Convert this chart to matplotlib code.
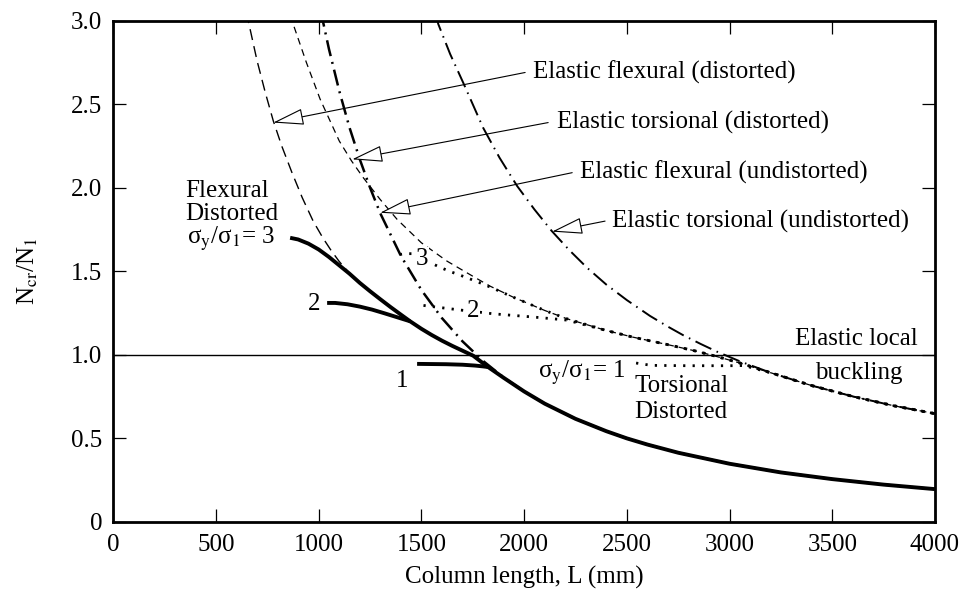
import matplotlib
matplotlib.use("Agg")
import matplotlib.pyplot as plt

plt.rcParams['font.family'] = ['Liberation Serif', 'DejaVu Serif']
plt.rcParams['mathtext.fontset'] = 'stix'

# ---------------- data ----------------
# Elastic flexural (distorted) - thin dashed
efd_L = [645, 657, 700, 740, 779, 820, 870, 920, 973, 1020, 1060, 1100, 1150, 1200, 1250,
         1300, 1350, 1400, 1445, 1500, 1550, 1600, 1650, 1700, 1752, 1820, 1900, 2000,
         2100, 2250, 2400, 2500, 2600, 2750, 3000, 3250, 3500, 3750, 4000]
efd_N = [3.05, 3.0, 2.76, 2.57, 2.40, 2.25, 2.09, 1.94, 1.80, 1.70, 1.625, 1.558, 1.487, 1.43, 1.38,
         1.332, 1.285, 1.24, 1.20, 1.155, 1.118, 1.084, 1.053, 1.024, 0.994, 0.93, 0.862, 0.78,
         0.707, 0.616, 0.542, 0.499, 0.462, 0.413, 0.347, 0.295, 0.255, 0.222, 0.195]

# Elastic torsional (distorted) - thin short dashes
etd_L = [860, 870, 940, 1007, 1100, 1160, 1217, 1299, 1382, 1500, 1625, 1750, 1835, 1946,
         2100, 2209, 2400, 2530, 2700, 2842, 2950, 3051, 3200, 3400, 3600, 3800, 4000]
etd_N = [3.03, 3.0, 2.75, 2.53, 2.28, 2.16, 2.06, 1.93, 1.81, 1.67, 1.56, 1.47, 1.41, 1.345,
         1.265, 1.215, 1.145, 1.105, 1.06, 1.02, 0.985, 0.95, 0.892, 0.815, 0.75, 0.694, 0.647]

# Elastic flexural (undistorted) - thick dash-dot
efu_L = [1010, 1020, 1050, 1100, 1150, 1200, 1250, 1300, 1400, 1500, 1600, 1700, 1800,
         1900, 2000, 2100, 2250, 2400, 2500, 2600, 2750, 3000, 3250, 3500, 3750, 4000]
efu_N = [3.06, 3.0, 2.83, 2.58, 2.36, 2.17, 2.0, 1.846, 1.592, 1.387, 1.219, 1.08, 0.963,
         0.864, 0.78, 0.707, 0.616, 0.542, 0.499, 0.462, 0.413, 0.347, 0.295, 0.255, 0.222, 0.195]

# Elastic torsional (undistorted) - dash-dot
etu_L = [1570, 1582, 1640, 1703, 1800, 1880, 1966, 2050, 2135, 2220, 2307, 2400, 2500,
         2613, 2700, 2774, 2860, 2939, 3051, 3200, 3400, 3600, 3800, 4000]
etu_N = [3.04, 2.98, 2.80, 2.63, 2.36, 2.18, 2.01, 1.87, 1.74, 1.626, 1.52, 1.42, 1.327,
         1.232, 1.168, 1.117, 1.064, 1.018, 0.96, 0.892, 0.815, 0.75, 0.694, 0.647]

# Inelastic flexural distorted (thick solid), sigma_y/sigma_1 = 3, 2, 1
fd3_L = [861, 900, 950, 1000, 1050, 1100, 1150, 1200, 1250, 1300, 1350, 1400, 1445, 1500,
         1550, 1600, 1650, 1700, 1752, 1820, 1900, 2000, 2100, 2250, 2400, 2500, 2600, 2750,
         3000, 3250, 3500, 3750, 4000]
fd3_N = [1.70, 1.69, 1.665, 1.63, 1.585, 1.535, 1.485, 1.43, 1.38, 1.332, 1.285, 1.24, 1.20,
         1.155, 1.118, 1.084, 1.053, 1.024, 0.994, 0.93, 0.862, 0.78, 0.707, 0.616, 0.542,
         0.499, 0.462, 0.413, 0.347, 0.295, 0.255, 0.222, 0.195]
fd2_L = [1041, 1080, 1140, 1200, 1260, 1320, 1380, 1445]
fd2_N = [1.31, 1.31, 1.302, 1.288, 1.27, 1.248, 1.225, 1.20]
fd1_L = [1479, 1550, 1620, 1700, 1760, 1800, 1825]
fd1_N = [0.945, 0.944, 0.943, 0.94, 0.935, 0.93, 0.926]

# Inelastic torsional distorted (dotted), sigma_y/sigma_1 = 3, 2, 1
td3_L = [1395, 1420, 1455, 1520, 1591, 1640, 1691, 1740, 1786, 1835, 1946, 2100, 2209,
         2400, 2530, 2700, 2842, 2950, 3051, 3200, 3400, 3600, 3800, 4000]
td3_N = [1.60, 1.605, 1.605, 1.565, 1.523, 1.498, 1.475, 1.452, 1.43, 1.405, 1.345, 1.265,
         1.215, 1.145, 1.105, 1.06, 1.02, 0.985, 0.95, 0.892, 0.815, 0.75, 0.694, 0.647]
td2_L = [1510, 1560, 1620, 1700, 1780, 1849, 1950, 2050, 2141, 2209, 2400, 2530, 2700,
         2842, 2950, 3051, 3200, 3400, 3600, 3800, 4000]
td2_N = [1.295, 1.287, 1.278, 1.266, 1.255, 1.245, 1.235, 1.225, 1.215, 1.207, 1.145, 1.105,
         1.06, 1.02, 0.985, 0.95, 0.892, 0.815, 0.75, 0.694, 0.647]
td1_L = [2545, 2620, 2800, 3000, 3070, 3200, 3400, 3600, 3800, 4000]
td1_N = [0.95, 0.936, 0.934, 0.934, 0.935, 0.892, 0.815, 0.75, 0.694, 0.647]

# Elastic local buckling
local_L = [0, 4000]
local_N = [1.0, 1.0]

xticks = [0, 500, 1000, 1500, 2000, 2500, 3000, 3500, 4000]
xticklabels = ['0', '500', '1000', '1500', '2000', '2500', '3000', '3500', '4000']
yticks = [0, 0.5, 1.0, 1.5, 2.0, 2.5, 3.0]
yticklabels = ['0', '0.5', '1.0', '1.5', '2.0', '2.5', '3.0']

# ---------------- figure ----------------
fig = plt.figure(figsize=(9.64, 5.95), dpi=100)
ax = fig.add_axes([0.1175, 0.1232, 0.9699 - 0.1175, 0.9652 - 0.1232])

FS = 18
k = 'black'

ax.plot(local_L, local_N, color=k, lw=1.0)
ax.plot(efd_L, efd_N, color=k, lw=1.0, ls=(0, (8, 4.5)))
ax.plot(etd_L, etd_N, color=k, lw=0.9, ls=(0, (5.5, 4)))
ax.plot(efu_L, efu_N, color=k, lw=1.8, ls=(0, (6.5, 2.4, 0.8, 2.4)))
ax.plot(etu_L, etu_N, color=k, lw=1.4, ls=(0, (9, 3, 0.8, 3)))

dot = (0, (0.8, 2.6))
ax.plot(td3_L, td3_N, color=k, lw=2.0, ls=dot)
ax.plot(td2_L, td2_N, color=k, lw=2.0, ls=dot)
ax.plot(td1_L, td1_N, color=k, lw=2.0, ls=dot)

ax.plot(fd3_L, fd3_N, color=k, lw=2.8, solid_capstyle='butt', solid_joinstyle='round')
ax.plot(fd2_L, fd2_N, color=k, lw=2.8, solid_capstyle='butt', solid_joinstyle='round')
ax.plot(fd1_L, fd1_N, color=k, lw=2.8, solid_capstyle='butt', solid_joinstyle='round')

ax.set_xlim(0, 4000)
ax.set_ylim(0, 3.0)
ax.set_xticks(xticks)
ax.set_xticklabels(xticklabels)
ax.set_yticks(yticks)
ax.set_yticklabels(yticklabels)
ax.tick_params(direction='in', length=9.5, width=0.9, labelsize=FS,
               top=True, right=True, pad=8)
ax.tick_params(axis='x', pad=9)
for s in ax.spines.values():
    s.set_linewidth(2.0)

ax.set_xlabel('Column length, L (mm)', fontsize=FS, labelpad=7)
ax.set_ylabel(r'N$_{\mathrm{cr}}$/N$_{1}$', fontsize=FS, labelpad=22)

# arrows with open triangular heads
aprops = dict(arrowstyle='-|>,head_length=1.3,head_width=0.35', fc='white', ec=k,
              lw=0.8, mutation_scale=15, shrinkA=0, shrinkB=0)
ann = [
    ('Elastic flexural (distorted)', (779, 2.39), (2005, 2.69), (2044, 2.69)),
    ('Elastic torsional (distorted)', (1163, 2.17), (2117, 2.39), (2161, 2.39)),
    ('Elastic flexural (undistorted)', (1299, 1.85), (2234, 2.09), (2272, 2.09)),
    ('Elastic torsional (undistorted)', (2136, 1.737), (2394, 1.80), (2428, 1.80)),
]
for txt, tip, tail, tpos in ann:
    ax.annotate('', xy=tip, xytext=tail, arrowprops=aprops)
    ax.text(tpos[0], tpos[1], txt, fontsize=FS, ha='left', va='center')

sig3 = 'σ$_{\\mathrm{y}}$/σ$_{1}$= 3'
sig1 = 'σ$_{\\mathrm{y}}$/σ$_{1}$= 1'
ax.text(350, 1.98, 'Flexural', fontsize=FS, ha='left', va='center')
ax.text(350, 1.84, 'Distorted', fontsize=FS, ha='left', va='center')
ax.text(360, 1.695, sig3, fontsize=FS, ha='left', va='center')
ax.text(978, 1.305, '2', fontsize=FS, ha='center', va='center')
ax.text(1406, 0.845, '1', fontsize=FS, ha='center', va='center')
ax.text(1504, 1.575, '3', fontsize=FS, ha='center', va='center',
        bbox=dict(fc='white', ec='none', pad=0.5))
ax.text(1752, 1.263, '2', fontsize=FS, ha='center', va='center',
        bbox=dict(fc='white', ec='none', pad=0.5))
ax.text(2068, 0.89, sig1, fontsize=FS, ha='left', va='center')
ax.text(2764, 0.81, 'Torsional', fontsize=FS, ha='center', va='center')
ax.text(2764, 0.655, 'Distorted', fontsize=FS, ha='center', va='center')
ax.text(3616, 1.096, 'Elastic local', fontsize=FS, ha='center', va='center')
ax.text(3630, 0.89, 'buckling', fontsize=FS, ha='center', va='center')

fig.savefig('out.png', dpi=100)
